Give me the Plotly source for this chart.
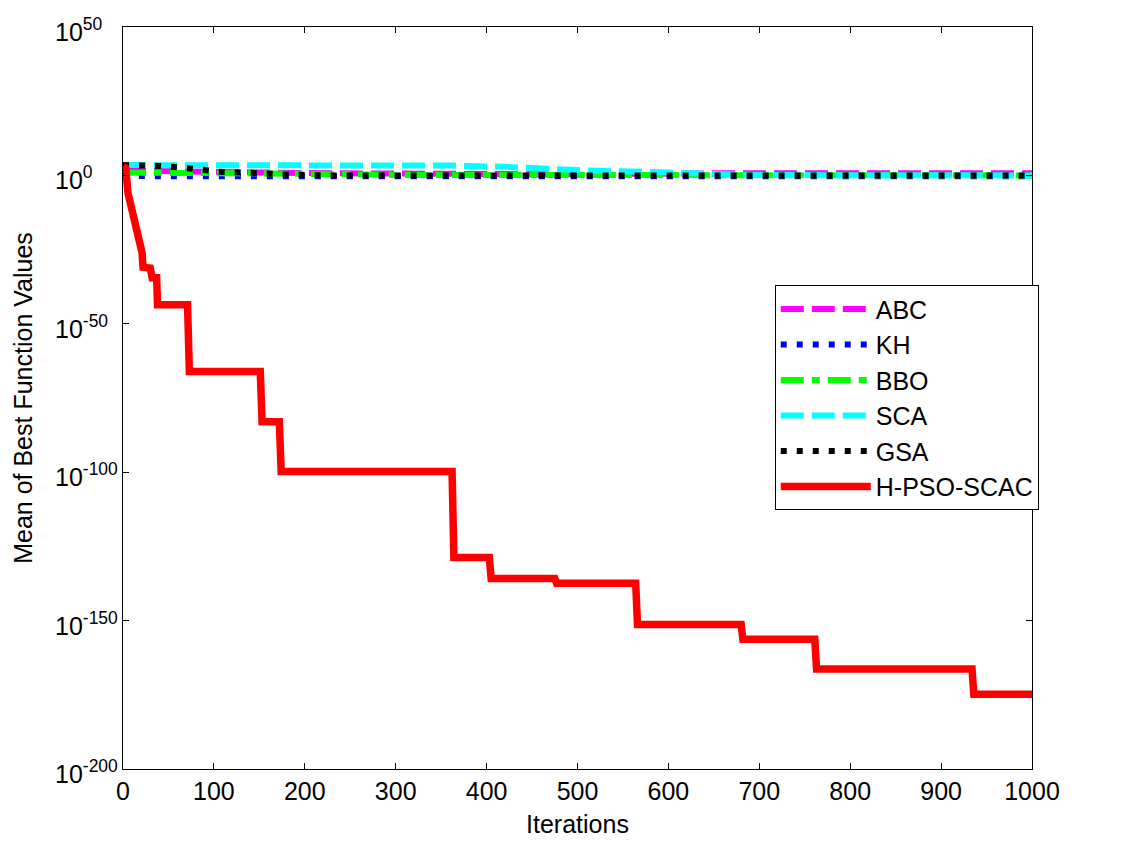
import plotly.graph_objects as go

# ---- data ----
abc_it = [0, 50, 200, 450, 650, 1000]
abc_val = [40, 25, 6, 2.5, 5, 5]

kh_it = [0, 5, 100, 1000]
kh_val = [1.5, 0.6, 0.5, 0.5]

bbo_it = [0, 8, 150, 300, 1000]
bbo_val = [20, 8, 5, 1.5, 1]

sca_it = [0, 320, 360, 420, 450, 470, 500, 530, 560, 600, 650, 700, 1000]
sca_val = [3000, 3000, 2000, 800, 250, 80, 60, 30, 12, 10, 3, 1.3, 1.0]

gsa_it = [0, 25, 40, 55, 73, 88, 105, 140, 156, 175, 220, 1000]
gsa_val = [3000, 3000, 1600, 800, 360, 80, 18, 12, 5, 2, 1, 1]

red_it = [0, 3, 5.5, 10, 13, 16.5, 21, 22, 30, 32, 37, 38, 71, 73, 151, 153,
          172, 174, 362, 364, 403, 405, 475, 477, 564, 566, 680, 682, 761, 763,
          934, 936, 1000]
red_val = [1e3, 3e2, 1e-6, 2.5e-12, 5e-18, 2e-22, 8e-27, 1.2e-31, 6e-32, 3e-35,
           3e-35, 2.5e-44, 2.5e-44, 8e-67, 8e-67, 1e-83, 1e-83, 1.6e-100, 1.6e-100,
           2e-129, 2e-129, 1.6e-136, 1.6e-136, 4e-138, 4e-138, 5e-152, 5e-152,
           5e-157, 5e-157, 5e-167, 5e-167, 1.6e-175, 1.6e-175]

y_exponents = [-200, -150, -100, -50, 0, 50]
y_ticktext = ["10<sup>-200</sup>", "10<sup>-150</sup>", "10<sup>-100</sup>",
              "10<sup>-50</sup>", "10<sup>0</sup>", "10<sup>50</sup>"]
x_tickvals = [0, 100, 200, 300, 400, 500, 600, 700, 800, 900, 1000]

FONT = "Liberation Sans, Arial, sans-serif"

fig = go.Figure()
series = [
    ("ABC", abc_it, abc_val, "#ff00ff", 6, "23px,8px"),
    ("KH", kh_it, kh_val, "#0000ff", 6, "6px,10px"),
    ("BBO", bbo_it, bbo_val, "#00ff00", 6, "23px,8px,8px,8px"),
    ("SCA", sca_it, sca_val, "#00ffff", 6, "23px,8px"),
    ("GSA", gsa_it, gsa_val, "#000000", 6, "6px,10px"),
    ("H-PSO-SCAC", red_it, red_val, "#ff0000", 7.5, "solid"),
]
for name, xs, ys, col, w, dash in series:
    fig.add_trace(go.Scatter(x=xs, y=ys, mode="lines", name=name,
                             legendgroup=name,
                             line=dict(color=col, width=w, dash=dash)))

# y tick labels: MATLAB-style, with the "10" bases aligned on the left
for e, txt in zip(y_exponents, y_ticktext):
    fig.add_annotation(x=-0.077, xref="paper", y=e, yref="y", text=txt,
                       showarrow=False, xanchor="left", yanchor="middle",
                       yshift=-3, font=dict(size=25, family=FONT, color="black"))

fig.update_layout(
    width=1114, height=835,
    margin=dict(l=115, r=90, t=19, b=74, autoexpand=False),
    paper_bgcolor="white", plot_bgcolor="white",
    font=dict(family=FONT, size=22, color="black"),
    showlegend=True,
    legend=dict(x=0.717, y=0.652, xanchor="left", yanchor="top",
                bordercolor="black", borderwidth=1, bgcolor="white",
                font=dict(size=25, family=FONT, color="black"),
                itemwidth=90, tracegroupgap=0, traceorder="grouped"),
)
fig.update_xaxes(range=[0, 1000], tickvals=x_tickvals, automargin=False,
                 showline=True, linecolor="black", linewidth=1, mirror="ticks",
                 ticks="inside", ticklen=6, tickcolor="black",
                 showgrid=False, zeroline=False,
                 tickfont=dict(size=25),
                 title=dict(text="Iterations", font=dict(size=25), standoff=11))
fig.update_yaxes(type="log", range=[-200, 50],
                 tickvals=[10.0 ** e for e in y_exponents],
                 showticklabels=False, automargin=False,
                 showline=True, linecolor="black", linewidth=1, mirror="ticks",
                 ticks="inside", ticklen=6, tickcolor="black",
                 showgrid=False, zeroline=False,
                 title=dict(text="Mean of Best Function Values", font=dict(size=25),
                            standoff=82))

fig.write_html("out.html")
